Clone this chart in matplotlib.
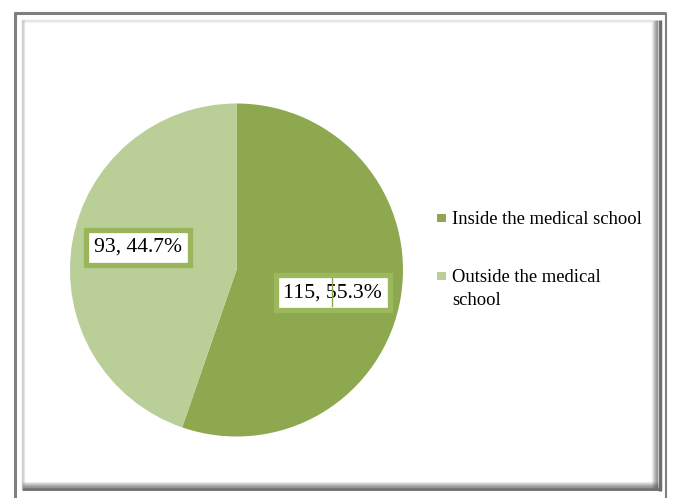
import matplotlib.pyplot as plt
from matplotlib.patches import Rectangle
import numpy as np

# survey counts by location
categories = ["Inside the medical school", "Outside the medical school"]
legend_text = ["Inside the medical school", "Outside the medical\nschool"]
counts = [115, 93]

colors = ["#8DA84F", "#BACE97"]
label_edges = ["#9BB85C", "#9AB55B"]

W, H = 673, 498
plt.rcParams['font.family'] = ['Liberation Serif', 'DejaVu Serif']

fig = plt.figure(figsize=(W / 100, H / 100), dpi=100)
ax = fig.add_axes([0, 0, 1, 1])


def py(y):
    # pixel row (from top) -> axis y (from bottom)
    return H - y


# pie
cx, cy, R = 236.5, py(270), 166.5
wedges, _ = ax.pie(counts, colors=colors, startangle=90, counterclock=False,
                   center=(cx, cy), radius=R, frame=True,
                   wedgeprops=dict(linewidth=0))

total = sum(counts)
for w, n, ec in zip(wedges, counts, label_edges):
    mid = np.deg2rad((w.theta1 + w.theta2) / 2 - 3.6)
    x = cx + 0.6 * R * np.cos(mid)
    y = cy + 0.6 * R * np.sin(mid)
    ax.text(x - 1, y, f"{n}, {100 * n / total:.1f}%", fontsize=15.6,
            ha='center', va='center', zorder=5,
            bbox=dict(boxstyle='square,pad=0.36', facecolor='white',
                      edgecolor=ec, linewidth=3.8))

# stray leader tick inside the larger label
ax.plot([332, 332], [py(278), py(306)], color='#8DA84F', lw=1, zorder=6)

# legend
for i, (lab, c) in enumerate(zip(legend_text, colors)):
    top = [214, 272][i]
    ax.add_patch(Rectangle((437, py(top + 8)), 9, 8, facecolor=c,
                           edgecolor='none'))
    ax.text(452, py(top - 3), lab, fontsize=13.4, ha='left', va='top',
            linespacing=1.45)

# frame with shadow
gray = '#7F7F7F'
ax.plot([15, 15], [py(12), py(498)], color=gray, lw=2.2, solid_capstyle='butt')
ax.plot([14, 666], [py(13), py(13)], color=gray, lw=2.2, solid_capstyle='butt')
ax.plot([666, 666], [py(13), py(498)], color=gray, lw=1.5, solid_capstyle='butt')

for k in range(6):
    a = 0.08 + 0.1 * k
    ax.plot([652 + k, 652 + k], [py(20), py(490)], color='#555555', alpha=a,
            lw=1, solid_capstyle='butt')
    ax.plot([22, 658], [py(482 + k), py(482 + k)], color='#555555', alpha=a,
            lw=1, solid_capstyle='butt')
ax.plot([659.5, 659.5], [py(20), py(491)], color='#6E6E6E', lw=2.5,
        solid_capstyle='butt')
ax.plot([22, 661], [py(489), py(489)], color='#6E6E6E', lw=2,
        solid_capstyle='butt')
for k in range(3):
    ax.plot([22 + k, 22 + k], [py(20), py(488)], color='#999999',
            alpha=0.45 - 0.13 * k, lw=1, solid_capstyle='butt')
    ax.plot([22, 652], [py(20 + k), py(20 + k)], color='#BBBBBB',
            alpha=0.35 - 0.1 * k, lw=1, solid_capstyle='butt')

ax.set_xlim(0, W)
ax.set_ylim(0, H)
ax.set_aspect('equal')
ax.axis('off')

fig.savefig('out.png', dpi=100)
